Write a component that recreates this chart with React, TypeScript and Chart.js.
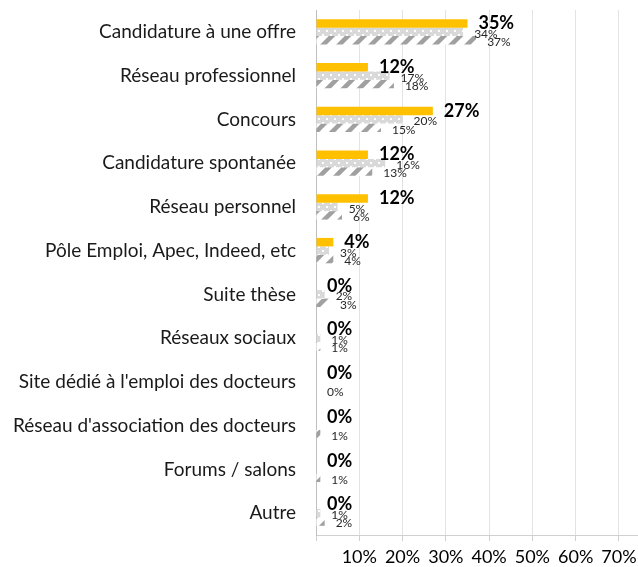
import React, { useEffect, useRef } from 'react';
import { Chart, registerables } from 'chart.js';

Chart.register(...registerables);

const categories = [
  'Candidature à une offre',
  'Réseau professionnel',
  'Concours',
  'Candidature spontanée',
  'Réseau personnel',
  'Pôle Emploi, Apec, Indeed, etc',
  'Suite thèse',
  'Réseaux sociaux',
  "Site dédié à l'emploi des docteurs",
  "Réseau d'association des docteurs",
  'Forums / salons',
  'Autre',
];

// values in %
const seriesYellow = [35, 12, 27, 12, 12, 4, 0, 0, 0, 0, 0, 0];
const seriesDotted = [34, 17, 20, 16, 5, 3, 2, 1, null, null, null, 1];
const seriesHatched = [37, 18, 15, 13, 6, 4, 3, 1, 0, 1, 1, 2];

const xTickValues = [0, 10, 20, 30, 40, 50, 60, 70];
const xMax = 74.4;

const FONT = 'Lato';

function makeDotted(): CanvasPattern | string {
  const c = document.createElement('canvas');
  c.width = 8;
  c.height = 8;
  const g = c.getContext('2d');
  if (!g) return '#d9d9d9';
  g.fillStyle = '#d9d9d9';
  g.fillRect(0, 0, 8, 8);
  g.fillStyle = '#ffffff';
  g.fillRect(2, 2, 2, 2);
  g.fillRect(6, 6, 2, 2);
  return g.createPattern(c, 'repeat') || '#d9d9d9';
}

function makeHatched(): CanvasPattern | string {
  const c = document.createElement('canvas');
  c.width = 16;
  c.height = 16;
  const g = c.getContext('2d');
  if (!g) return '#a6a6a6';
  g.fillStyle = '#ffffff';
  g.fillRect(0, 0, 16, 16);
  g.strokeStyle = '#a0a0a0';
  g.lineWidth = 4.5;
  g.lineCap = 'square';
  for (const o of [-16, 0, 16]) {
    g.beginPath();
    g.moveTo(o, 16);
    g.lineTo(o + 16, 0);
    g.stroke();
  }
  return g.createPattern(c, 'repeat') || '#a6a6a6';
}

const valueLabels = {
  id: 'valueLabels',
  afterDatasetsDraw(chart: any) {
    const ctx = chart.ctx;
    chart.data.datasets.forEach((ds: any, di: number) => {
      const meta = chart.getDatasetMeta(di);
      meta.data.forEach((el: any, i: number) => {
        const v = ds.data[i];
        if (v === null || v === undefined) return;
        ctx.save();
        if (di === 0) {
          ctx.font = `bold 18px ${FONT}`;
          ctx.fillStyle = '#000000';
        } else {
          ctx.font = `12px ${FONT}`;
          ctx.fillStyle = '#262626';
        }
        ctx.textAlign = 'left';
        ctx.textBaseline = 'middle';
        ctx.fillText(Math.round(v) + '%', el.x + 11, el.y + (di === 0 ? 0 : 2));
        ctx.restore();
      });
    });
  },
};

export default function App() {
  const ref = useRef<HTMLCanvasElement | null>(null);

  useEffect(() => {
    document.body.style.margin = '0';
    document.body.style.overflow = 'hidden';
    const canvas = ref.current;
    if (!canvas) return;
    const chart = new Chart(canvas, {
      type: 'bar',
      data: {
        labels: categories,
        datasets: [
          {
            label: 'A',
            data: seriesYellow,
            backgroundColor: '#FFC000',
            borderWidth: 0,
          },
          {
            label: 'B',
            data: seriesDotted as any,
            backgroundColor: makeDotted() as any,
            borderWidth: 0,
          },
          {
            label: 'C',
            data: seriesHatched,
            backgroundColor: makeHatched() as any,
            borderWidth: 0,
          },
        ],
      },
      options: {
        indexAxis: 'y',
        animation: false,
        responsive: false,
        maintainAspectRatio: false,
        layout: { padding: { top: 10, right: 0, left: 0, bottom: 0 } },
        datasets: {
          bar: {
            categoryPercentage: 0.58,
            barPercentage: 1.0,
          },
        },
        plugins: {
          legend: { display: false },
          tooltip: { enabled: false },
        },
        scales: {
          x: {
            type: 'linear',
            min: 0,
            max: xMax,
            afterBuildTicks(scale: any) {
              scale.ticks = xTickValues.map((v) => ({ value: v }));
            },
            afterFit(scale: any) {
              scale.height = 32;
              scale.paddingLeft = 0;
              scale.paddingRight = 0;
            },
            grid: {
              color: '#e3e3e3',
              lineWidth: 1,
              drawTicks: true,
              tickLength: 6,
              tickColor: '#d0d0d0',
            },
            border: { display: true, color: '#d0d0d0' },
            ticks: {
              padding: 5,
              color: '#000000',
              font: { family: FONT, size: 18 },
              maxRotation: 0,
              autoSkip: false,
              callback: (v: any) => (Number(v) === 0 ? '' : `${v}%`),
            },
          },
          y: {
            afterFit(scale: any) {
              scale.width = 316;
              scale.paddingTop = 0;
              scale.paddingBottom = 0;
            },
            grid: { display: false, drawTicks: false },
            border: { display: true, color: '#bfbfbf' },
            ticks: {
              padding: 20,
              color: '#1a1a1a',
              font: { family: FONT, size: 19 },
              autoSkip: false,
            },
          },
        },
      },
      plugins: [valueLabels],
    });
    return () => chart.destroy();
  }, []);

  return (
    <div style={{ width: 638, height: 567 }}>
      <canvas ref={ref} width={638} height={567} style={{ display: 'block' }} />
    </div>
  );
}
